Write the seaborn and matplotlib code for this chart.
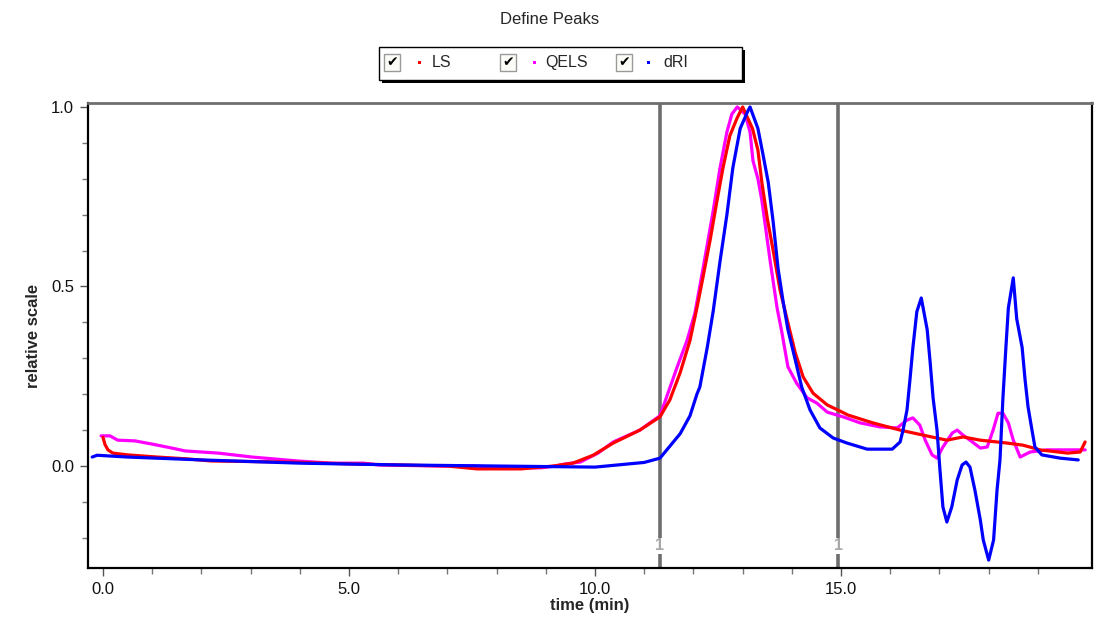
import matplotlib
matplotlib.use("Agg")
import matplotlib.pyplot as plt
from matplotlib.patches import Rectangle
import seaborn as sns
import pandas as pd
import numpy as np

# ---------------- data ----------------
ls_t = [0.0, 0.04, 0.1, 0.2, 0.5, 1.1, 1.7, 2.2, 3.8, 5.0, 6.0, 7.0, 7.6, 8.5, 9.15, 9.55, 9.96,
        10.37, 10.91, 11.32, 11.52, 11.73, 11.93, 12.07, 12.2, 12.34, 12.48, 12.6, 12.74, 12.89,
        13.0, 13.2, 13.31, 13.39, 13.5, 13.62, 13.76, 13.9, 14.07, 14.23, 14.43, 14.72, 14.98,
        15.14, 15.65, 16.2, 16.67, 17.15, 17.48, 17.83, 18.37, 18.7, 19.04, 19.6, 19.86, 19.96]
ls_v = [0.08, 0.06, 0.045, 0.036, 0.031, 0.025, 0.02, 0.014, 0.011, 0.006, 0.003, 0.0, -0.008,
        -0.008, 0.0, 0.008, 0.03, 0.064, 0.1, 0.137, 0.184, 0.26, 0.35, 0.44, 0.53, 0.63, 0.74,
        0.83, 0.92, 0.97, 1.0, 0.94, 0.88, 0.79, 0.69, 0.6, 0.49, 0.41, 0.315, 0.248, 0.203,
        0.17, 0.153, 0.142, 0.12, 0.1, 0.086, 0.072, 0.081, 0.072, 0.064, 0.058, 0.045, 0.036,
        0.039, 0.067]

qels_t = [-0.04, 0.14, 0.3, 0.65, 1.0, 1.4, 1.67, 2.34, 3.03, 3.96, 4.65, 5.3, 5.6, 6.85, 7.5,
          8.5, 8.9, 9.2, 9.4, 9.7, 10.06, 10.37, 10.91, 11.32, 11.67, 11.87, 12.03, 12.2, 12.4,
          12.54, 12.68, 12.78, 12.89, 13.05, 13.15, 13.21, 13.31, 13.39, 13.46, 13.56, 13.7,
          13.8, 13.92, 14.1, 14.31, 14.51, 14.72, 15.04, 15.39, 15.79, 16.14, 16.34, 16.46,
          16.6, 16.71, 16.85, 16.95, 17.07, 17.26, 17.36, 17.48, 17.62, 17.83, 17.97, 18.09,
          18.19, 18.29, 18.4, 18.5, 18.64, 18.84, 19.19, 19.72, 19.96]
qels_v = [0.084, 0.084, 0.072, 0.07, 0.061, 0.05, 0.042, 0.036, 0.025, 0.014, 0.008, 0.008,
          0.003, 0.0, 0.0, -0.005, -0.005, 0.0, 0.006, 0.011, 0.036, 0.067, 0.1, 0.14, 0.276,
          0.35, 0.426, 0.554, 0.71, 0.83, 0.93, 0.98, 1.0, 0.98, 0.93, 0.85, 0.8, 0.74, 0.67,
          0.57, 0.44, 0.37, 0.276, 0.23, 0.19, 0.175, 0.15, 0.137, 0.12, 0.109, 0.106, 0.128,
          0.134, 0.114, 0.072, 0.031, 0.022, 0.053, 0.092, 0.1, 0.086, 0.072, 0.05, 0.053, 0.1,
          0.147, 0.147, 0.12, 0.072, 0.025, 0.039, 0.045, 0.045, 0.045]

dri_t = [-0.22, -0.12, 0.5, 2.0, 4.0, 6.0, 8.0, 10.0, 11.0, 11.32, 11.73, 11.93, 12.07, 12.13,
         12.28, 12.4, 12.54, 12.68, 12.8, 12.95, 13.11, 13.15, 13.31, 13.41, 13.52, 13.62,
         13.72, 13.82, 13.92, 14.07, 14.2, 14.37, 14.57, 14.84, 15.12, 15.53, 16.04, 16.2,
         16.26, 16.34, 16.4, 16.46, 16.54, 16.63, 16.75, 16.81, 16.87, 16.95, 17.01, 17.07,
         17.15, 17.25, 17.36, 17.46, 17.54, 17.62, 17.72, 17.83, 17.89, 18.0, 18.1, 18.17,
         18.23, 18.29, 18.35, 18.4, 18.5, 18.57, 18.68, 18.74, 18.8, 18.88, 18.94, 19.08,
         19.45, 19.82]
dri_v = [0.025, 0.03, 0.025, 0.017, 0.008, 0.003, 0.0, -0.003, 0.01, 0.022, 0.09, 0.14, 0.2,
         0.22, 0.33, 0.43, 0.57, 0.7, 0.83, 0.94, 0.99, 1.0, 0.94, 0.87, 0.79, 0.68, 0.55, 0.46,
         0.38, 0.295, 0.22, 0.156, 0.106, 0.078, 0.064, 0.047, 0.047, 0.067, 0.1, 0.156, 0.24,
         0.33, 0.43, 0.468, 0.38, 0.29, 0.19, 0.1, -0.011, -0.114, -0.156, -0.114, -0.039,
         0.003, 0.011, -0.003, -0.067, -0.15, -0.206, -0.262, -0.206, -0.067, 0.017, 0.19,
         0.33, 0.44, 0.524, 0.41, 0.33, 0.24, 0.165, 0.1, 0.053, 0.031, 0.022, 0.017]

series_names = ["LS", "QELS", "dRI"]
series_colors = ["#ff0000", "#ff00ff", "#0000ff"]
peak_bounds = [11.32, 14.94]
peak_labels = ["1", "1"]
x_ticks = [0.0, 5.0, 10.0, 15.0]
y_ticks = [0.0, 0.5, 1.0]

# ---------------- figure ----------------
sns.set_theme(style="white")
plt.rcParams["font.family"] = ["Liberation Sans", "DejaVu Sans"]

fig = plt.figure(figsize=(10.99, 6.28), dpi=100)
ax = fig.add_axes([88 / 1099, 1 - 568 / 628, (1092 - 88) / 1099, (568 - 103) / 628])

df = pd.concat([
    pd.DataFrame({"time": ls_t, "value": ls_v, "series": "LS"}),
    pd.DataFrame({"time": qels_t, "value": qels_v, "series": "QELS"}),
    pd.DataFrame({"time": dri_t, "value": dri_v, "series": "dRI"}),
], ignore_index=True)

order = ["QELS", "LS", "dRI"]
pal = dict(zip(series_names, series_colors))
for name in order:
    sub = df[df["series"] == name]
    sns.lineplot(data=sub, x="time", y="value", color=pal[name], lw=2.3,
                 sort=False, estimator=None, ax=ax, legend=False)

ax.set_xlim(-0.305, 20.1)
ax.set_ylim(-0.284, 1.011)

# peak boundary lines
for xb, lab in zip(peak_bounds, peak_labels):
    ax.axvline(xb, color="#6e6e6e", lw=2.6, zorder=1)
    ax.text(xb, -0.222, lab, ha="center", va="center", color="#a8a8a8",
            fontsize=11.5, fontweight="bold", zorder=2,
            bbox=dict(facecolor="white", edgecolor="none", pad=0.5))

ax.set_xticks(x_ticks)
ax.set_xticklabels([f"{v:.1f}" for v in x_ticks])
ax.set_yticks(y_ticks)
ax.set_yticklabels([f"{v:.1f}" for v in y_ticks])
ax.set_xticks(np.arange(1, 20, 1.0), minor=True)
ax.set_yticks([-0.2, -0.1, 0.1, 0.2, 0.3, 0.4, 0.6, 0.7, 0.8, 0.9], minor=True)
ax.tick_params(axis="both", which="major", direction="out", length=6, width=1,
               color="#555555", labelsize=12, labelcolor="#111111", pad=4,
               bottom=True, left=True)
ax.tick_params(axis="both", which="minor", direction="out", length=4, width=1,
               color="#777777", bottom=True, left=True)

for s in ["left", "bottom", "right"]:
    ax.spines[s].set_color("black")
    ax.spines[s].set_linewidth(1.6)
ax.spines["top"].set_color("#6e6e6e")
ax.spines["top"].set_linewidth(2.0)

ax.set_xlabel("time (min)", fontsize=12, fontweight="bold", labelpad=1)
ax.set_ylabel("relative scale", fontsize=12, fontweight="bold")
ax.yaxis.set_label_coords(-0.047, 0.5)

fig.text(0.5, 1 - 20 / 628, "Define Peaks", ha="center", va="center", fontsize=12)

# ---------------- legend box (checkbox style) ----------------
W, H = 1099.0, 628.0
def fx(px): return px / W
def fy(py): return 1 - py / H

fig.patches.append(Rectangle((fx(382), fy(83)), fx(742) - fx(379), fy(47) - fy(80),
                             transform=fig.transFigure, facecolor="black",
                             edgecolor="none", zorder=1))
fig.patches.append(Rectangle((fx(379), fy(80)), fx(742) - fx(379), fy(47) - fy(80),
                             transform=fig.transFigure, facecolor="white",
                             edgecolor="black", lw=1.0, zorder=2))

cb_x = [384, 500, 616]
dot_x = [419, 534, 648]
txt_x = [432, 545, 663]
for name, col, cx, dx, tx in zip(series_names, series_colors, cb_x, dot_x, txt_x):
    fig.patches.append(Rectangle((fx(cx), fy(71)), fx(cx + 16) - fx(cx), fy(54) - fy(71),
                                 transform=fig.transFigure, facecolor="#fdfdf8",
                                 edgecolor="#9a9a9a", lw=1.0, zorder=3))
    fig.text(fx(cx + 8), fy(62.5), "\u2714", ha="center", va="center", fontsize=10,
             color="black", family="DejaVu Sans", zorder=4)
    fig.patches.append(Rectangle((fx(dx - 1.5), fy(64)), fx(3) - fx(0), fy(61) - fy(64),
                                 transform=fig.transFigure, facecolor=col,
                                 edgecolor="none", zorder=4))
    fig.text(fx(tx), fy(62.5), name, ha="left", va="center", fontsize=11.5, zorder=4)

fig.savefig("out.png", dpi=100, facecolor="white")
